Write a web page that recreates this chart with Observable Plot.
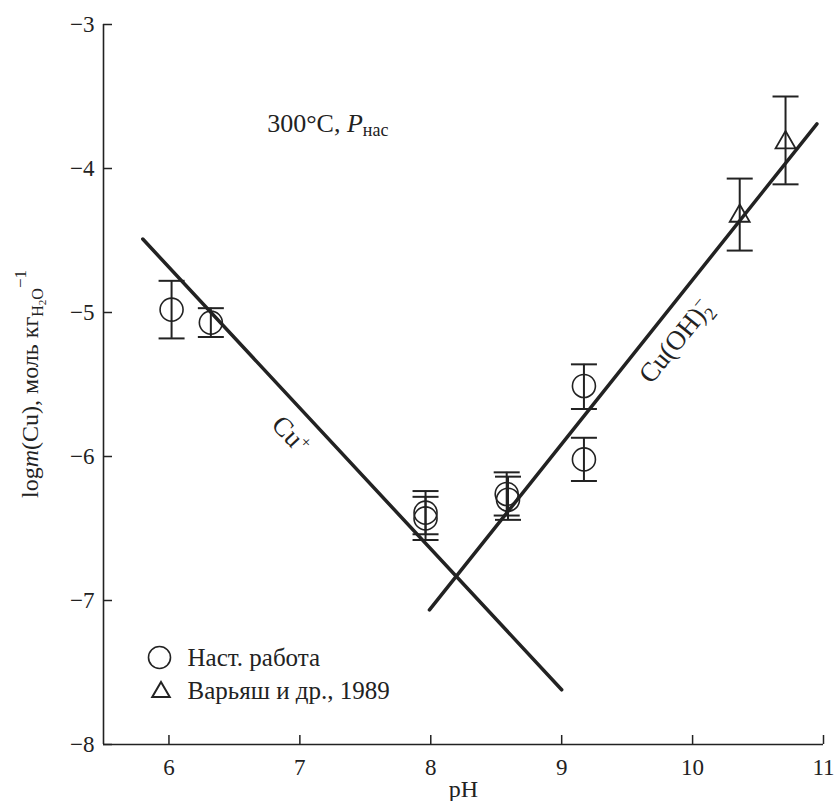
<!DOCTYPE html>
<html><head><meta charset="utf-8">
<script src="https://cdn.jsdelivr.net/npm/d3@7"></script>
<script src="https://cdn.jsdelivr.net/npm/@observablehq/plot@0.6"></script>
<style>body{margin:0;background:#fff;} svg text{font-family:"Liberation Serif",serif !important;}</style>
</head><body><div id="chart"></div>
<script>
// ticks
const xTicks = [6, 7, 8, 9, 10, 11];
const yTicks = [-3, -4, -5, -6, -7, -8];
const legendLabels = ["Наст. работа", "Варьяш и др., 1989"];

// Наст. работа (circles)
const ourPH   = [6.02, 6.32, 7.96, 7.96, 8.58, 8.59, 9.17, 9.17];
const ourLogM = [-4.98, -5.07, -6.39, -6.43, -6.26, -6.30, -5.51, -6.02];
const ourLow  = [-5.18, -5.17, -6.54, -6.58, -6.41, -6.44, -5.67, -6.17];
const ourHigh = [-4.78, -4.97, -6.24, -6.28, -6.11, -6.14, -5.36, -5.87];

// Варьяш и др., 1989 (triangles)
const litPH   = [10.36, 10.71];
const litLogM = [-4.33, -3.82];
const litLow  = [-4.57, -4.11];
const litHigh = [-4.07, -3.50];

// fitted lines
const cuPlusPH   = [5.8, 9.0];
const cuPlusLogM = [-4.49, -7.62];
const cuOHPH     = [7.99, 10.95];
const cuOHLogM   = [-7.065, -3.69];

// annotations (data coordinates)
const speciesLabels = [
  {x: 6.93, y: -5.85, text: "Cu", rotate: 47},
  {x: 9.87, y: -5.20, text: "Cu(OH)", rotate: -51}
];
const condLabel = [{x: 6.75, y: -3.748, text: "300°C, "}];

const ours = ourPH.map((x, i) => ({x, y: ourLogM[i], lo: ourLow[i], hi: ourHigh[i]}));
const lit = litPH.map((x, i) => ({x, y: litLogM[i], lo: litLow[i], hi: litHigh[i]}));
const cuPlus = cuPlusPH.map((x, i) => ({x, y: cuPlusLogM[i]}));
const cuOH = cuOHPH.map((x, i) => ({x, y: cuOHLogM[i]}));
const errs = ours.concat(lit);

const ink = "#222";
const serif = "Liberation Serif, serif";
const capSymbol = {draw(ctx, size) { const h = Math.sqrt(size / Math.PI); ctx.moveTo(-h, 0); ctx.lineTo(h, 0); }};
const fmt = d => d < 0 ? "\u2212" + (-d) : String(d);

const chart = Plot.plot({
  width: 834, height: 801,
  marginLeft: 103, marginRight: 11, marginTop: 24, marginBottom: 57,
  style: {fontFamily: serif, fontSize: "23px", color: ink, background: "#fff"},
  x: {domain: [5.5, 11], label: null},
  y: {domain: [-8, -3], label: null},
  marks: [
    Plot.ruleX([5.5], {stroke: ink, strokeWidth: 1.6}),
    Plot.ruleY([-8], {stroke: ink, strokeWidth: 1.6}),
    Plot.axisX({ticks: xTicks, tickSize: -9, tickPadding: 23, fontSize: 23, fontFamily: serif, fontVariant: "normal", tickFormat: fmt, label: null, strokeWidth: 1.5}),
    Plot.axisY({ticks: yTicks, tickSize: -9, tickPadding: 18, fontSize: 23, fontFamily: serif, fontVariant: "normal", tickFormat: fmt, label: null, strokeWidth: 1.5}),
    Plot.line(cuPlus, {x: "x", y: "y", stroke: ink, strokeWidth: 3.5, strokeLinecap: "round"}),
    Plot.line(cuOH, {x: "x", y: "y", stroke: ink, strokeWidth: 3.5, strokeLinecap: "round"}),
    Plot.ruleX(errs, {x: "x", y1: "lo", y2: "hi", stroke: ink, strokeWidth: 2}),
    Plot.dot(errs, {x: "x", y: "lo", symbol: capSymbol, r: 13, stroke: ink, strokeWidth: 2, fill: "none"}),
    Plot.dot(errs, {x: "x", y: "hi", symbol: capSymbol, r: 13, stroke: ink, strokeWidth: 2, fill: "none"}),
    Plot.dot(ours, {x: "x", y: "y", r: 11.5, stroke: ink, strokeWidth: 1.6, fill: "none"}),
    Plot.dot(lit, {x: "x", y: "y", symbol: "triangle", r: 7.4, stroke: ink, strokeWidth: 1.8, fill: "none"}),
    Plot.text(speciesLabels, {x: "x", y: "y", text: "text", rotate: "rotate", fontSize: 27, fontFamily: serif, fill: ink, textAnchor: "middle", lineAnchor: "middle"}),
    Plot.text(condLabel, {x: "x", y: "y", text: "text", fontSize: 26, fontFamily: serif, fill: ink, textAnchor: "start", lineAnchor: "bottom"}),
    // legend
    Plot.dot([0], {frameAnchor: "bottom-left", dx: 56, dy: -87, r: 11, stroke: ink, strokeWidth: 1.6, fill: "none"}),
    Plot.dot([0], {frameAnchor: "bottom-left", dx: 57.5, dy: -52.5, symbol: "triangle", r: 6.5, stroke: ink, strokeWidth: 2, fill: "none"}),
    Plot.text([legendLabels[0]], {frameAnchor: "bottom-left", dx: 84, dy: -79, textAnchor: "start", lineAnchor: "bottom", fontSize: 25, fontFamily: serif, fill: ink}),
    Plot.text([legendLabels[1]], {frameAnchor: "bottom-left", dx: 84, dy: -46, textAnchor: "start", lineAnchor: "bottom", fontSize: 25, fontFamily: serif, fill: ink}),
    Plot.text(["pH"], {frameAnchor: "bottom", dy: 52, lineAnchor: "bottom", fontSize: 24, fontFamily: serif, fill: ink})
  ]
});
document.getElementById("chart").appendChild(chart);

// rich text parts
const svg = d3.select(chart);
svg.selectAll("text").each(function() {
  const s = this.textContent;
  const t = d3.select(this);
  if (s === "Cu") {
    t.append("tspan").attr("font-size", 17).attr("dy", "-0.55em").text("+");
  } else if (s === "Cu(OH)") {
    t.append("tspan").attr("font-size", 18).attr("dy", 7).text("2");
    t.append("tspan").attr("font-size", 18).attr("dx", -9).attr("dy", -17).text("\u2212");
  } else if (s.startsWith("300")) {
    t.append("tspan").attr("font-style", "italic").text("P");
    t.append("tspan").attr("font-size", 18).attr("dy", 4).text("нас");
  }
});

const yS = chart.scale("y");
const yc = (yS.apply(-3) + yS.apply(-8)) / 2;
const lab = svg.append("text")
  .attr("transform", `translate(38,${yc}) rotate(-90)`)
  .attr("text-anchor", "middle").attr("font-size", 24).attr("font-family", serif).attr("fill", ink);
lab.append("tspan").text("log");
lab.append("tspan").attr("font-style", "italic").text("m");
lab.append("tspan").text("(Cu), моль кг");
lab.append("tspan").attr("font-size", 16).attr("dy", 5).text("H");
lab.append("tspan").attr("font-size", 11).attr("dy", 3).text("2");
lab.append("tspan").attr("font-size", 16).attr("dy", -3).text("O");
lab.append("tspan").attr("font-size", 17).attr("dy", -17).text("\u22121");
</script>
</body></html>
